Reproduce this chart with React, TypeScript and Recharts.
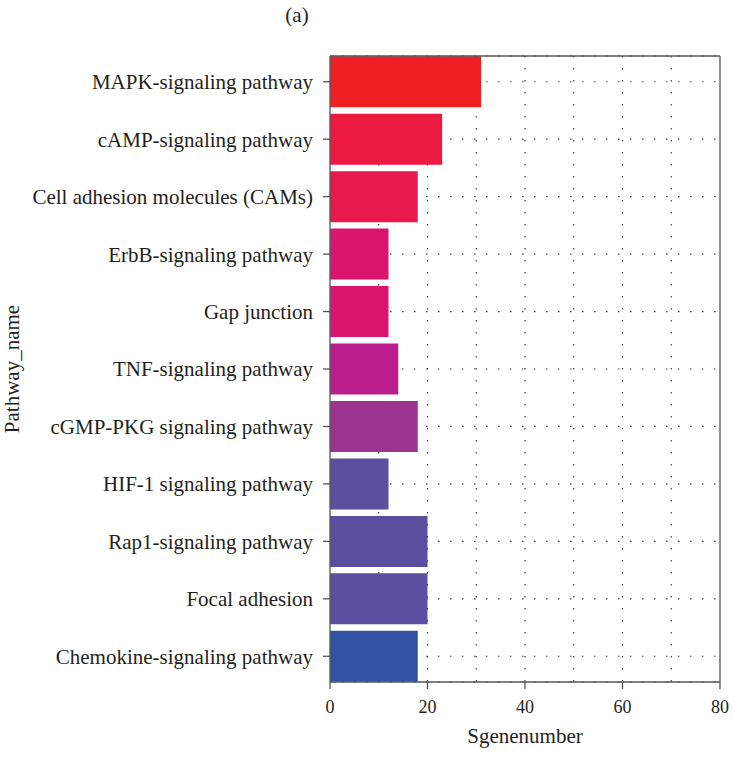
import React from 'react';
import { BarChart, Bar, XAxis, YAxis, CartesianGrid, Cell } from 'recharts';

const pathways = [
  'MAPK-signaling pathway',
  'cAMP-signaling pathway',
  'Cell adhesion molecules (CAMs)',
  'ErbB-signaling pathway',
  'Gap junction',
  'TNF-signaling pathway',
  'cGMP-PKG signaling pathway',
  'HIF-1 signaling pathway',
  'Rap1-signaling pathway',
  'Focal adhesion',
  'Chemokine-signaling pathway',
];
const geneCounts = [31, 23, 18, 12, 12, 14, 18, 12, 20, 20, 18];
const barColors = [
  '#ee2024',
  '#ec1a40',
  '#e8194d',
  '#da1570',
  '#da1570',
  '#b91e8c',
  '#9c348f',
  '#5a4e9e',
  '#5a4e9e',
  '#5a4e9e',
  '#3253a3',
];
const xTicks = [0, 20, 40, 60, 80];
const gridTicks = [10, 20, 30, 40, 50, 60, 70];

const FONT = '"Liberation Serif", "DejaVu Serif", serif';
const INK = '#231f20';
const AXIS = '#555';

// vertical dotted lines every 10 units, placed with the x axis scale
const verticalGrid = ({ xAxis }: any) => {
  const s = xAxis?.scale;
  if (!s) return [];
  return gridTicks.map((v) => (typeof s === 'function' ? s(v) : s.map(v)));
};

export default function App() {
  const data = pathways.map((name, i) => ({ name, count: geneCounts[i] }));

  return (
    <div style={{ position: 'absolute', left: 0, top: 0, width: 737, height: 762, background: '#fff', fontFamily: FONT }}>
      <div
        style={{
          position: 'absolute',
          left: 0,
          width: 594,
          top: 3,
          textAlign: 'center',
          fontSize: 21,
          color: INK,
        }}
      >
        (a)
      </div>
      <BarChart
        width={737}
        height={762}
        data={data}
        layout="vertical"
        barCategoryGap="5.65%"
        margin={{ top: 55, right: 16, left: 0, bottom: 0 }}
      >
        <CartesianGrid
          stroke="#444"
          strokeWidth={1.2}
          strokeDasharray="1.5 10.5"
          verticalCoordinatesGenerator={verticalGrid}
        />
        <XAxis
          xAxisId="top"
          type="number"
          orientation="top"
          domain={[0, 80]}
          ticks={xTicks}
          height={1}
          tick={false}
          tickLine={false}
          axisLine={{ stroke: AXIS, strokeWidth: 1.3 }}
        />
        <XAxis
          type="number"
          domain={[0, 80]}
          ticks={xTicks}
          height={80}
          tickSize={7}
          tickMargin={11}
          tickLine={{ stroke: AXIS, strokeWidth: 1.3 }}
          axisLine={{ stroke: AXIS, strokeWidth: 1.3 }}
          tick={{ fontSize: 18, fill: INK, fontFamily: FONT }}
          label={{
            value: 'Sgenenumber',
            position: 'insideBottom',
            offset: 19,
            style: { fontSize: 21, fill: INK, fontFamily: FONT },
          }}
        />
        <YAxis
          type="category"
          dataKey="name"
          width={330}
          interval={0}
          padding={{ top: -3, bottom: -3 }}
          tickSize={7}
          tickMargin={10}
          tickLine={{ stroke: AXIS, strokeWidth: 1.3 }}
          axisLine={{ stroke: AXIS, strokeWidth: 1.3 }}
          tick={{ fontSize: 21, fill: INK, fontFamily: FONT }}
          label={{
            value: 'Pathway_name',
            angle: -90,
            position: 'insideLeft',
            offset: 12,
            textAnchor: 'middle',
            style: { textAnchor: 'middle', fontSize: 21, fill: INK, fontFamily: FONT },
          }}
        />
        <YAxis
          yAxisId="frame"
          type="category"
          dataKey="name"
          orientation="right"
          width={1}
          tick={false}
          tickLine={false}
          axisLine={{ stroke: AXIS, strokeWidth: 1.3 }}
        />
        <Bar dataKey="count" isAnimationActive={false}>
          {data.map((d, i) => (
            <Cell key={d.name} fill={barColors[i]} />
          ))}
        </Bar>
      </BarChart>
    </div>
  );
}
